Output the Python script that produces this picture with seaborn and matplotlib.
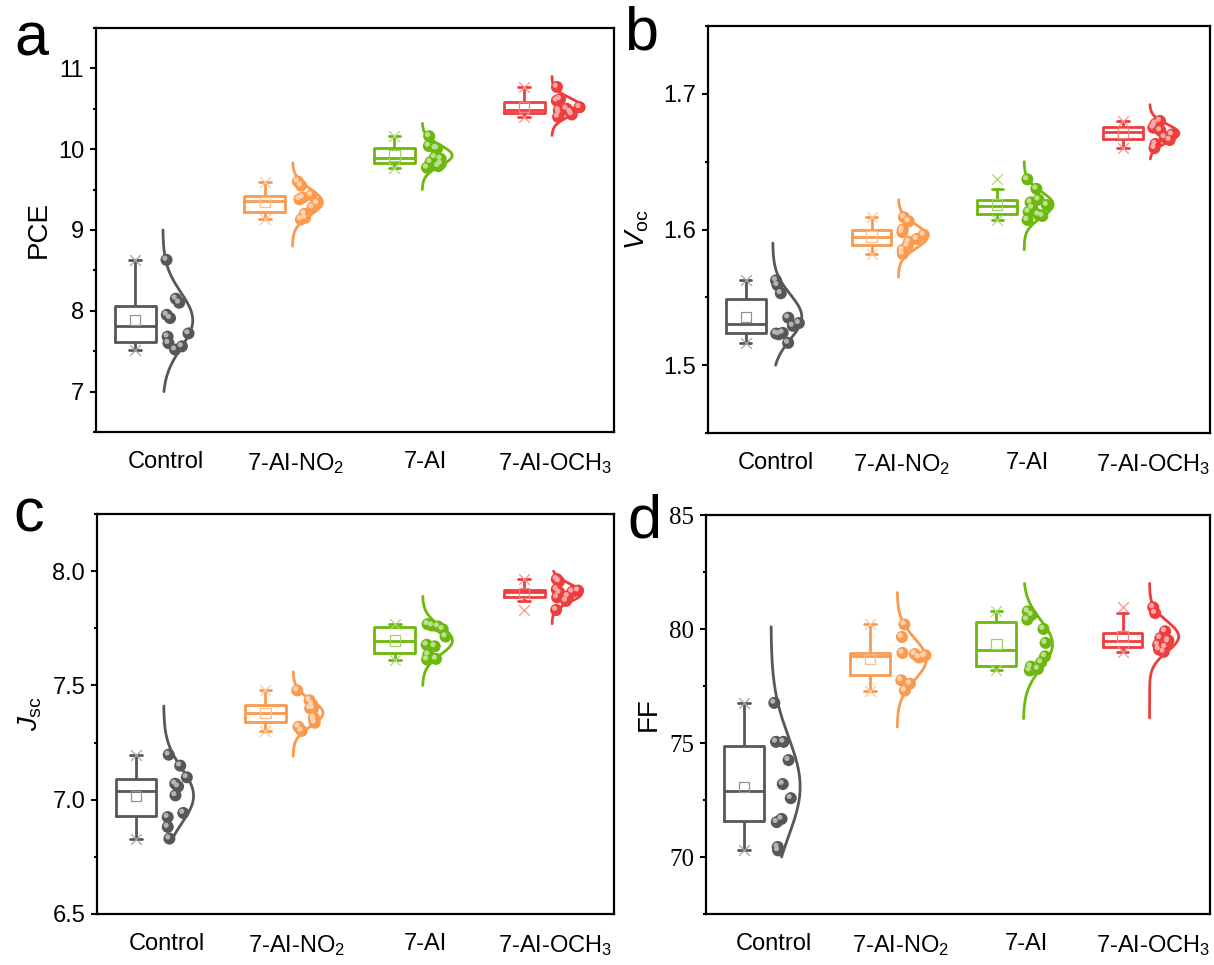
import numpy as np
import pandas as pd
import matplotlib
matplotlib.use("Agg")
import matplotlib.pyplot as plt
import matplotlib.transforms as mtransforms
from matplotlib.ticker import MultipleLocator, FormatStrFormatter
import seaborn as sns

# ---------------------------------------------------------------- data
groups = ["Control", "7-AI-NO$_2$", "7-AI", "7-AI-OCH$_3$"]
colors = ["#575757", "#F99A4E", "#6DB80C", "#EE3D3D"]

pce_control = [8.63, 8.15, 8.10, 7.95, 7.91, 7.72, 7.68, 7.60, 7.56, 7.52]
pce_no2 = [9.60, 9.55, 9.43, 9.40, 9.38, 9.33, 9.28, 9.20, 9.15, 9.13]
pce_ai = [10.16, 10.04, 10.01, 10.01, 9.90, 9.88, 9.84, 9.82, 9.79, 9.77]
pce_och3 = [10.77, 10.62, 10.60, 10.52, 10.50, 10.48, 10.46, 10.45, 10.43, 10.40]

voc_control = [1.5625, 1.559, 1.553, 1.535, 1.531, 1.529, 1.5238, 1.5233, 1.5228, 1.5164]
voc_no2 = [1.609, 1.606, 1.600, 1.598, 1.596, 1.593, 1.591, 1.588, 1.585, 1.582]
voc_ai = [1.637, 1.630, 1.622, 1.620, 1.618, 1.616, 1.613, 1.611, 1.610, 1.607]
voc_och3 = [1.680, 1.678, 1.676, 1.675, 1.673, 1.670, 1.668, 1.666, 1.663, 1.660]

jsc_control = [7.197, 7.149, 7.098, 7.070, 7.058, 7.019, 6.942, 6.924, 6.881, 6.830]
jsc_no2 = [7.478, 7.435, 7.417, 7.400, 7.400, 7.359, 7.348, 7.337, 7.319, 7.301]
jsc_ai = [7.768, 7.762, 7.758, 7.746, 7.714, 7.678, 7.671, 7.635, 7.616, 7.613]
jsc_och3 = [7.965, 7.955, 7.920, 7.915, 7.910, 7.905, 7.890, 7.885, 7.870, 7.830]

ff_control = [76.76, 75.05, 75.05, 74.25, 73.20, 72.58, 71.67, 71.53, 70.44, 70.29]
ff_no2 = [80.20, 79.65, 78.95, 78.90, 78.85, 78.80, 78.75, 77.75, 77.60, 77.30]
ff_ai = [80.77, 80.62, 80.41, 80.00, 79.39, 78.80, 78.54, 78.35, 78.25, 78.18]
ff_och3 = [80.95, 80.70, 79.90, 79.60, 79.50, 79.45, 79.30, 79.20, 79.10, 79.00]

# vertical extent of each fitted normal curve (low, high)
pce_curve = [(7.00, 9.00), (8.80, 9.83), (9.50, 10.32), (10.17, 10.90)]
voc_curve = [(1.500, 1.590), (1.565, 1.622), (1.585, 1.650), (1.652, 1.692)]
jsc_curve = [(6.81, 7.41), (7.19, 7.56), (7.50, 7.89), (7.77, 8.00)]
ff_curve = [(70.0, 80.1), (75.7, 81.6), (76.07, 82.0), (76.1, 82.0)]

# ---------------------------------------------------------------- style
sns.set_theme(style="ticks")
plt.rcParams["font.family"] = ["Liberation Sans", "DejaVu Sans"]
plt.rcParams["mathtext.fontset"] = "custom"
plt.rcParams["mathtext.rm"] = "Liberation Sans"
plt.rcParams["mathtext.it"] = "Liberation Sans:italic"
plt.rcParams["mathtext.default"] = "regular"
plt.rcParams["text.color"] = "black"
plt.rcParams["axes.labelcolor"] = "black"
plt.rcParams["xtick.color"] = "black"
plt.rcParams["ytick.color"] = "black"

BOX_OFF, BOX_W = -0.239, 0.316
BASE_OFF, AMP = -0.025, 0.231
XLIM = (-0.54, 3.454)
TICK_FS = 17

W, H = 1214, 965
fig = plt.figure(figsize=(W / 100, H / 100), dpi=100)


def add_axes(l, r, t, b):
    return fig.add_axes([l / W, 1 - b / H, (r - l) / W, (b - t) / H])


def lighten(c, f):
    rgb = np.array(matplotlib.colors.to_rgb(c))
    return tuple(rgb + (1 - rgb) * f)


rng = np.random.default_rng(11)


def draw_panel(ax, series, curves, ylim, major, ylabel, label_x, letter, letter_xy,
               tick_font=None):
    rows = []
    for k, vals in enumerate(series):
        for v in vals:
            rows.append({"group": groups[k], "k": k, "value": v, "box_x": k + BOX_OFF})
    df = pd.DataFrame(rows)

    sns.boxplot(data=df, x="box_x", y="value", hue="group", hue_order=groups,
                palette=colors, native_scale=True, width=BOX_W, fill=False,
                linewidth=2.0, whis=1.5, showfliers=False, legend=False,
                capwidths=0.09, ax=ax)

    for k, vals in enumerate(series):
        vals = np.asarray(vals)
        m, s = vals.mean(), vals.std(ddof=1)
        col = colors[k]
        # normal distribution curve
        lo, hi = curves[k]
        yy = np.linspace(lo, hi, 200)
        xx = k + BASE_OFF + AMP * np.exp(-0.5 * ((yy - m) / s) ** 2)
        sns.lineplot(x=xx, y=yy, sort=False, estimator=None, color=col,
                     linewidth=2.0, ax=ax)
        # data points alongside the curve
        dens = AMP * np.exp(-0.5 * ((vals - m) / s) ** 2)
        u = rng.uniform(0.0, 1.0, len(vals))
        px = k + BASE_OFF + 0.025 + u * np.maximum(dens - 0.02, 0.03)
        sns.scatterplot(x=px, y=vals, color=col, s=75, edgecolor="none",
                        legend=False, ax=ax, zorder=4)
        hl = mtransforms.offset_copy(ax.transData, fig=fig, x=-1.2, y=1.2, units="points")
        ax.scatter(px, vals, s=14, color=lighten(col, 0.55), edgecolors="none",
                   transform=hl, zorder=5)
        # mean and extreme markers
        bx = k + BOX_OFF
        ax.scatter([bx], [m], marker="s", s=55, facecolors="none",
                   edgecolors=lighten(col, 0.35), linewidths=0.9, zorder=3)
        ax.scatter([bx, bx], [vals.min(), vals.max()], marker="x", s=60,
                   color=lighten(col, 0.45), linewidths=0.9, zorder=3)

    ax.set_xlim(*XLIM)
    ax.set_ylim(*ylim)
    ax.set_xticks(range(len(groups)))
    ax.set_xticklabels(groups)
    ax.set_xlabel("")
    ax.yaxis.set_major_locator(MultipleLocator(major))
    ax.yaxis.set_minor_locator(MultipleLocator(major / 2))
    ax.tick_params(axis="x", length=0, pad=14, labelsize=TICK_FS)
    ax.tick_params(axis="y", which="major", direction="out", length=4.5, width=1.5,
                   pad=4, labelsize=TICK_FS)
    ax.tick_params(axis="y", which="minor", direction="out", length=2.5, width=1.5)
    if tick_font is not None:
        for t in ax.get_yticklabels():
            t.set_fontfamily(tick_font)
            t.set_fontsize(TICK_FS + 1)
    for sp in ax.spines.values():
        sp.set_visible(True)
        sp.set_linewidth(1.6)
        sp.set_color("black")
    ax.set_ylabel(ylabel, fontsize=20)
    ax.yaxis.set_label_coords(label_x, 0.5)
    fig.text(letter_xy[0] / W, 1 - letter_xy[1] / H, letter, fontsize=44,
             ha="left", va="baseline")


ax_a = add_axes(96, 614, 28, 432)
ax_b = add_axes(708, 1210, 26, 433)
ax_c = add_axes(97, 614, 514, 914)
ax_d = add_axes(706, 1210, 515, 914)

draw_panel(ax_a, [pce_control, pce_no2, pce_ai, pce_och3], pce_curve, (6.5, 11.5), 1,
           "PCE", -0.085, "a", (14, 55))
draw_panel(ax_b, [voc_control, voc_no2, voc_ai, voc_och3], voc_curve, (1.45, 1.75), 0.1,
           "$\\mathit{V}_{\\mathrm{oc}}$", -0.114, "b", (624, 50))
draw_panel(ax_c, [jsc_control, jsc_no2, jsc_ai, jsc_och3], jsc_curve, (6.5, 8.25), 0.5,
           "$\\mathit{J}_{\\mathrm{sc}}$", -0.103, "c", (13, 531))
draw_panel(ax_d, [ff_control, ff_no2, ff_ai, ff_och3], ff_curve, (67.5, 85), 5,
           "FF", -0.087, "d", (627, 537), tick_font="Liberation Serif")

ax_b.yaxis.set_major_formatter(FormatStrFormatter("%.1f"))
ax_c.yaxis.set_major_formatter(FormatStrFormatter("%.1f"))

fig.savefig("out.png", dpi=100)
